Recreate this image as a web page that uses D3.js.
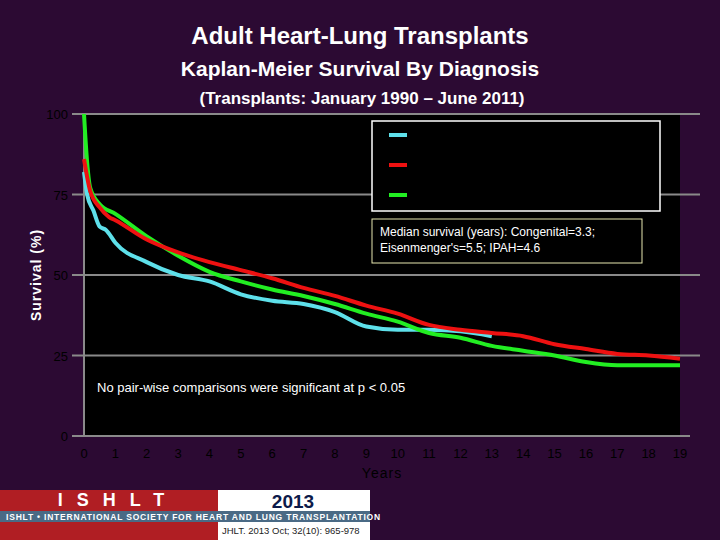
<!DOCTYPE html><html><head><meta charset="utf-8"><script src="https://cdn.jsdelivr.net/npm/d3@7"></script>
<style>body{margin:0;background:#2c0a33}text{font-family:Arial,"Liberation Sans",sans-serif}</style></head><body><svg id="c" width="720" height="540"></svg>
<script>
const congenitalX=[0,0.1,0.3,0.5,0.7,1,2,3,4,5,6,7,8,9,10,11,12,13];
const congenitalY=[82,75,70,65,64,60,54,50,48,44,42,41,38.5,34,33,33,32.5,31];
const eisenX=[0,0.2,0.5,0.8,1,2,3,4,5,6,7,8,9,10,11,12,13,14,15,16,17,18,19];
const eisenY=[86,76,71,68,67,61,57,54,51.5,49,46,43.5,40.5,38,34.5,33,32,31,28.5,27,25.5,25,24];
const ipahX=[0,0.1,0.2,0.5,1,2,3,4,5,6,7,8,9,10,11,12,13,14,15,16,17,18,19];
const ipahY=[100,85,77,72,69,62,56,51,48,45.5,43.5,41,38,35.5,32,30.5,28,26.5,25,23,22,22,22];
const xTicks=d3.range(0,20);
const yTicks=[0,25,50,75,100];
const svg=d3.select("#c");
svg.append("rect").attr("width",720).attr("height",540).attr("fill","#2c0a33");
const x=d3.scaleLinear().domain([0,19]).range([84,680]);
const y=d3.scaleLinear().domain([0,100]).range([436,114]);
svg.append("rect").attr("x",84).attr("y",114).attr("width",596).attr("height",322).attr("fill","#000");
svg.selectAll(".g").data(yTicks.slice(1)).join("line").attr("x1",72).attr("x2",700).attr("y1",d=>y(d)).attr("y2",d=>y(d)).attr("stroke","#8a8a8a").attr("stroke-width",2);
svg.append("line").attr("x1",84).attr("x2",84).attr("y1",114).attr("y2",436).attr("stroke","#8a8a8a").attr("stroke-width",2);
svg.append("line").attr("x1",72).attr("x2",690).attr("y1",436).attr("y2",436).attr("stroke","#8a8a8a").attr("stroke-width",2);
svg.selectAll(".yt").data(yTicks).join("text").attr("x",68).attr("y",d=>y(d)+5).attr("text-anchor","end").attr("fill","#000").attr("font-size",13).text(d=>d);
svg.selectAll(".xt").data(xTicks).join("text").attr("x",d=>x(d)).attr("y",458).attr("text-anchor","middle").attr("fill","#000").attr("font-size",13).text(d=>d);
svg.append("text").attr("x",382).attr("y",478).attr("text-anchor","middle").attr("fill","#000").attr("font-size",14).attr("letter-spacing",1).text("Years");
svg.append("text").attr("transform","translate(41,275) rotate(-90)").attr("text-anchor","middle").attr("fill","#fff").attr("font-size",14).attr("font-weight","bold").attr("letter-spacing",1).text("Survival (%)");
svg.append("text").attr("x",360).attr("y",44).attr("text-anchor","middle").attr("fill","#fff").attr("font-size",24).attr("font-weight","bold").text("Adult Heart-Lung Transplants");
svg.append("text").attr("x",360).attr("y",76).attr("text-anchor","middle").attr("fill","#fff").attr("font-size",21).attr("font-weight","bold").text("Kaplan-Meier Survival By Diagnosis");
svg.append("text").attr("x",362).attr("y",104).attr("text-anchor","middle").attr("fill","#fff").attr("font-size",17).attr("font-weight","bold").text("(Transplants: January 1990 – June 2011)");
const line=d3.line().x(d=>x(d[0])).y(d=>y(d[1])).curve(d3.curveMonotoneX);
const series=[[congenitalX,congenitalY,"#5ee0ea"],[ipahX,ipahY,"#22ee22"],[eisenX,eisenY,"#ee1111"]];
series.forEach(s=>svg.append("path").attr("d",line(s[0].map((v,i)=>[v,s[1][i]]))).attr("fill","none").attr("stroke",s[2]).attr("stroke-width",4));
svg.append("rect").attr("x",372).attr("y",121).attr("width",288).attr("height",90).attr("fill","#000").attr("stroke","#fff").attr("stroke-width",1.5);
["#5ee0ea","#ee1111","#22ee22"].forEach((c,i)=>svg.append("rect").attr("x",389).attr("y",133+i*30).attr("width",18).attr("height",4).attr("fill",c));
svg.append("rect").attr("x",372).attr("y",219).attr("width",270).attr("height",44).attr("fill","#000").attr("stroke","#e8e8b0").attr("stroke-width",1);
svg.append("text").attr("x",380).attr("y",236).attr("fill","#fff").attr("font-size",12).text("Median survival (years): Congenital=3.3;");
svg.append("text").attr("x",380).attr("y",252).attr("fill","#fff").attr("font-size",12).text("Eisenmenger's=5.5; IPAH=4.6");
svg.append("text").attr("x",97).attr("y",392).attr("fill","#fff").attr("font-size",13).text("No pair-wise comparisons were significant at p < 0.05");
// logo
svg.append("rect").attr("x",0).attr("y",490).attr("width",218).attr("height",50).attr("fill","#b01e23");
svg.append("text").attr("x",118).attr("y",506).attr("text-anchor","middle").attr("fill","#fff").attr("font-size",18).attr("font-weight","bold").attr("letter-spacing",14).text("ISHLT");
svg.append("rect").attr("x",218).attr("y",490).attr("width",152).attr("height",50).attr("fill","#fff");
svg.append("rect").attr("x",0).attr("y",511).attr("width",370).attr("height",11).attr("fill","#4a6a85");
svg.append("text").attr("x",6).attr("y",520).attr("fill","#fff").attr("font-size",8.5).attr("font-weight","bold").attr("letter-spacing",0.8).text("ISHLT • INTERNATIONAL SOCIETY FOR HEART AND LUNG TRANSPLANTATION");
svg.append("text").attr("x",293).attr("y",508).attr("text-anchor","middle").attr("fill","#0c1a4a").attr("font-size",19).attr("font-weight","bold").text("2013");
svg.append("text").attr("x",222).attr("y",534).attr("fill","#222").attr("font-size",9.5).text("JHLT. 2013 Oct; 32(10): 965-978");
</script></body></html>
